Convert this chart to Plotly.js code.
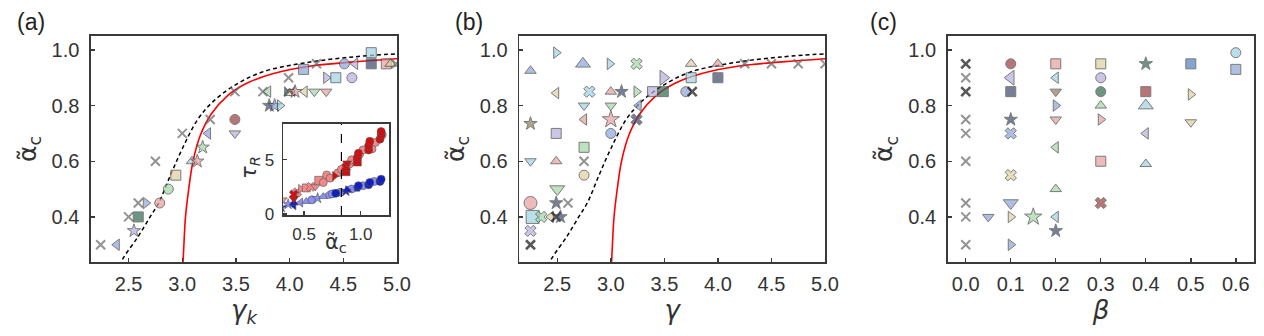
<!DOCTYPE html>
<html>
<head>
<meta charset="utf-8">
<script src="https://cdn.plot.ly/plotly-3.0.1.min.js"></script>
<style>
  html, body { margin: 0; padding: 0; background: #fff; }
  #chart { width: 1264px; height: 336px; }
</style>
</head>
<body>
<div id="chart"></div>
<script>
// theory curves (shared by panels a and b)
const redGamma  = [3.005, 3.015, 3.03, 3.06, 3.10, 3.17, 3.27, 3.42, 3.60, 3.85, 4.20, 4.60, 5.00];
const redAlpha  = [0.22, 0.30, 0.40, 0.50, 0.60, 0.695, 0.77, 0.835, 0.88, 0.915, 0.942, 0.957, 0.968];
const dashGamma = [2.40, 2.44, 2.59, 2.70, 2.78, 2.89, 3.00, 3.14, 3.27, 3.46, 3.74, 4.15, 4.60, 5.00];
const dashAlpha = [0.20, 0.245, 0.33, 0.40, 0.45, 0.55, 0.645, 0.748, 0.808, 0.866, 0.92, 0.954, 0.975, 0.986];

// panel (a): gamma_k vs alpha_c
const aGamma = [2.24, 2.39, 2.50, 2.59, 2.55, 2.59, 2.66, 2.79, 2.87, 2.75, 2.94, 3.00, 3.09, 3.14, 3.19, 3.24, 3.26,
  3.49, 3.49, 3.49, 3.75, 3.80, 3.81, 3.86, 3.91, 3.99, 4.00, 4.00, 4.05, 4.14, 4.23, 4.34, 4.13, 4.25, 4.34, 4.43,
  4.58, 4.51, 4.61, 4.76, 4.76, 4.90, 4.94, 4.99];
const aAlpha = [0.30, 0.30, 0.40, 0.40, 0.35, 0.45, 0.45, 0.45, 0.50, 0.60, 0.55, 0.70, 0.60, 0.60, 0.65, 0.70, 0.75,
  0.70, 0.75, 0.85, 0.85, 0.85, 0.80, 0.80, 0.80, 0.90, 0.845, 0.85, 0.85, 0.85, 0.85, 0.85, 0.93, 0.95, 0.90, 0.90,
  0.90, 0.95, 0.95, 0.95, 0.99, 0.95, 0.95, 0.95];
const aMark = ['x', 'triangle-left:sb', 'x', 'square:dg', 'star:lv', 'x', 'triangle-right:sb', 'circle:pk', 'circle:gr',
  'x', 'square:kh', 'x', 'triangle-up:lb', 'star:pk', 'star:gr', 'triangle-left:sb', 'x',
  'triangle-down:lv', 'circle:dr', 'x', 'x', 'triangle-left:gr', 'star:dn', 'star:sb', 'triangle-right:lb', 'x',
  'triangle-up:kh', 'bowtie:dn', 'star:pk', 'triangle-left:kh', 'triangle-down:gr', 'triangle-down:pk', 'square:sb',
  'x', 'triangle-right:lv', 'square:lb', 'circle:lv', 'circle:sb', 'triangle-left:lv', 'square:dn', 'square:lb',
  'square:pk', 'triangle-up:kh', 'x'];

// panel (a) inset: alpha_c vs tau_R
const redLightAlpha = [0.31, 0.44, 0.47, 0.52, 0.56, 0.60, 0.63, 0.67, 0.70, 0.73, 0.80, 0.83, 0.90, 0.92, 0.99, 1.02, 1.10, 1.13, 1.19];
const redLightTau   = [1.3, 2.0, 2.3, 2.4, 2.5, 2.5, 3.1, 2.9, 3.6, 3.3, 3.8, 4.1, 4.6, 5.0, 5.5, 5.9, 6.0, 6.6, 7.3];
const redDarkAlpha  = [0.41, 0.41, 0.77, 0.87, 0.87, 0.88, 0.97, 0.97, 0.98, 1.07, 1.07, 1.08, 1.17, 1.18, 1.18];
const redDarkTau    = [1.4, 1.8, 3.5, 3.9, 4.3, 4.7, 4.8, 5.2, 5.6, 5.9, 6.3, 6.7, 6.9, 7.3, 7.6];
const blueLightAlpha = [0.36, 0.47, 0.52, 0.57, 0.62, 0.67, 0.72, 0.75, 0.82, 0.92, 1.02, 1.12];
const blueLightTau   = [0.9, 1.05, 1.15, 1.3, 1.45, 1.6, 1.75, 1.85, 2.0, 2.3, 2.6, 3.0];
const blueDarkAlpha  = [0.30, 0.41, 0.41, 0.78, 0.87, 0.88, 0.97, 0.98, 1.07, 1.08, 1.17, 1.18];
const blueDarkTau    = [0.6, 0.8, 1.0, 1.9, 2.1, 2.2, 2.4, 2.6, 2.7, 2.9, 3.0, 3.2];
const alphaThreshold = 0.83;

// panel (b): gamma vs alpha_c
const bGamma = [2.25, 2.49, 2.74, 2.99, 3.24, 3.75, 4.00, 4.25, 4.50, 4.75, 5.00, 3.49, 3.75, 4.00,
  2.49, 2.80, 3.00, 3.10, 3.24, 3.39, 3.49, 3.70, 3.76, 2.75, 3.00, 3.26, 2.75, 3.00, 3.24,
  2.25, 2.49, 3.00, 2.75, 2.25, 2.49, 2.75, 2.75, 2.50, 2.25, 2.49, 2.60, 2.27, 2.35, 2.44, 2.49, 2.53, 2.25, 2.25];
const bAlpha = [0.925, 0.99, 0.95, 0.95, 0.95, 0.95, 0.95, 0.95, 0.95, 0.95, 0.95, 0.90, 0.90, 0.90,
  0.845, 0.85, 0.85, 0.85, 0.85, 0.85, 0.85, 0.85, 0.85, 0.80, 0.80, 0.80, 0.75, 0.75, 0.75,
  0.735, 0.70, 0.70, 0.65, 0.60, 0.60, 0.60, 0.55, 0.50, 0.45, 0.45, 0.45, 0.40, 0.40, 0.40, 0.40, 0.40, 0.35, 0.30];
const bMark = ['triangle-up:sb', 'triangle-right:lb', 'triangle-up:sb+', 'triangle-right:lb', 'xf:gr', 'triangle-up:kh',
  'triangle-up:pk', 'x', 'x', 'x', 'x', 'triangle-right:lv+', 'square:lb', 'square:dn',
  'triangle-left:kh', 'xf:lb', 'triangle-up:pk', 'star:dn', 'triangle-right:gr', 'square:lv', 'square:dg', 'circle:sb', 'xd',
  'triangle-down:lb', 'triangle-down:gr', 'triangle-left:sb', 'triangle-left:pk', 'star:pk+', 'xf:dn',
  'star:ol', 'square:lv', 'circle:sb', 'square:gr', 'triangle-down:lb', 'triangle-up:pk', 'x', 'circle:kh',
  'triangle-down:gr+', 'circle:pk+', 'star:dn', 'x', 'square:lb+', 'xf:gr', 'triangle-left:kh', 'xd', 'star:dn',
  'xf:lv', 'xd'];

// panel (c): beta vs alpha_c
const cBeta = [0, 0, 0, 0, 0, 0, 0, 0, 0, 0.05,
  0.1, 0.1, 0.1, 0.1, 0.1, 0.1, 0.1, 0.1, 0.1, 0.15,
  0.2, 0.2, 0.2, 0.2, 0.2, 0.2, 0.2, 0.2, 0.2,
  0.3, 0.3, 0.3, 0.3, 0.3, 0.3, 0.3,
  0.4, 0.4, 0.4, 0.4, 0.4,
  0.5, 0.5, 0.5, 0.6, 0.6];
const cAlpha = [0.95, 0.90, 0.85, 0.75, 0.70, 0.60, 0.45, 0.40, 0.30, 0.40,
  0.95, 0.90, 0.85, 0.75, 0.70, 0.55, 0.45, 0.40, 0.30, 0.40,
  0.95, 0.90, 0.85, 0.80, 0.75, 0.65, 0.50, 0.40, 0.35,
  0.95, 0.90, 0.85, 0.80, 0.75, 0.60, 0.45,
  0.95, 0.85, 0.80, 0.70, 0.59,
  0.95, 0.84, 0.74, 0.99, 0.93];
const cMark = ['xd', 'x', 'xd', 'x', 'x', 'x', 'x', 'x', 'x', 'triangle-down:sb',
  'circle:dr', 'triangle-left:lv+', 'square:dn', 'star:dn', 'xf:sb', 'xf:kh', 'triangle-down:sb+', 'triangle-right:kh',
  'triangle-right:sb', 'star:gr+',
  'square:pk', 'triangle-left:lb', 'triangle-down:ol', 'triangle-right:sb', 'triangle-down:pk', 'triangle-left:gr',
  'triangle-up:gr', 'triangle-left:lb', 'star:dn',
  'square:kh', 'circle:lv', 'circle:dg', 'triangle-up:gr', 'triangle-right:pk', 'square:pk', 'xf:dr',
  'star:dg', 'square:dr', 'triangle-up:lb+', 'triangle-left:lv', 'triangle-up:lb',
  'square:bl', 'triangle-right:kh', 'triangle-down:kh', 'circle:lb', 'square:sb'];

const palette = {
  lb: '#9fd2e2', pk: '#e89d9d', gr: '#a0d6a6', lv: '#b6aedb', kh: '#ddd09e', sb: '#8ea5d8',
  dg: '#2f6a50', dr: '#9b3b3b', dn: '#3d4a6b', ol: '#8c8058', bl: '#4f80bd'
};

function markersFor(codes) {
  const sym = [], col = [], size = [], lcol = [], lw = [];
  codes.forEach(c => {
    if (c === 'x' || c === 'xd') {
      sym.push('x-thin'); col.push('rgba(0,0,0,0)'); size.push(9);
      lcol.push(c === 'xd' ? '#111' : '#666'); lw.push(c === 'xd' ? 2.6 : 2);
      return;
    }
    const big = c.endsWith('+');
    const [s, k] = c.replace('+', '').split(':');
    sym.push(s === 'xf' ? 'x' : s);
    col.push(palette[k]);
    size.push(big ? 13 : 10);
    lcol.push('#444'); lw.push(1);
  });
  return {symbol: sym, color: col, size: size, line: {color: lcol, width: lw}};
}

function scatterPanel(x, y, codes, xa, ya) {
  return {x: x, y: y, xaxis: xa, yaxis: ya, type: 'scatter', mode: 'markers',
    marker: markersFor(codes), showlegend: false, hoverinfo: 'x+y'};
}

function curves(xa, ya) {
  return [
    {x: dashGamma, y: dashAlpha, xaxis: xa, yaxis: ya, mode: 'lines', type: 'scatter', showlegend: false,
      line: {color: '#000', width: 1.5, dash: '4px,3px', shape: 'spline'}},
    {x: redGamma, y: redAlpha, xaxis: xa, yaxis: ya, mode: 'lines', type: 'scatter', showlegend: false,
      line: {color: '#ff0000', width: 1.6, shape: 'spline'}}
  ];
}

function insetTrace(x, y, fill, syms) {
  return {x: x, y: y, xaxis: 'x4', yaxis: 'y4', type: 'scatter', mode: 'markers', showlegend: false,
    marker: {symbol: syms, size: 8, color: fill, line: {color: '#555', width: 0.6}}};
}

const redSyms = ['triangle-down', 'x', 'triangle-right', 'square', 'x', 'triangle-down', 'square'];
const blueSyms = ['star', 'triangle-left', 'triangle-up', 'circle', 'star', 'triangle-up', 'pentagon'];

const traces = [
  ...curves('x', 'y'),
  scatterPanel(aGamma, aAlpha, aMark, 'x', 'y'),
  ...curves('x2', 'y2'),
  scatterPanel(bGamma, bAlpha, bMark, 'x2', 'y2'),
  scatterPanel(cBeta, cAlpha, cMark, 'x3', 'y3'),
  insetTrace(blueLightAlpha, blueLightTau, '#8a8ff0', blueSyms),
  insetTrace(blueDarkAlpha, blueDarkTau, '#1020c0', blueSyms),
  insetTrace(redLightAlpha, redLightTau, '#f08a8a', redSyms),
  insetTrace(redDarkAlpha, redDarkTau, '#d01010', redSyms)
];

const lineCol = '#3a3a3a';
function axis(extra) {
  return Object.assign({
    showline: true, mirror: true, linecolor: lineCol, linewidth: 1.6,
    ticks: 'inside', ticklen: 4, tickwidth: 1.4, tickcolor: lineCol,
    showgrid: false, zeroline: false, ticklabelstandoff: 6,
    tickfont: {size: 20, color: '#333'}
  }, extra);
}

const yTitle = {text: 'α\u0303<sub>c</sub>', font: {size: 25, color: '#333', family: 'DejaVu Sans'}, standoff: 8};
const yDom = [0.2202, 0.8929];
const yMain = {range: [0.238, 1.05], dtick: 0.2, tick0: 0, tickformat: '.1f', domain: yDom, title: yTitle};
const xTitleFont = {size: 26, color: '#333', family: 'DejaVu Sans'};

const layout = {
  width: 1264, height: 336,
  margin: {l: 0, r: 0, t: 0, b: 0},
  paper_bgcolor: '#fff', plot_bgcolor: '#fff',
  font: {family: 'Liberation Sans, Arial, sans-serif', color: '#333'},
  xaxis: axis({domain: [0.0720, 0.3141], range: [2.15, 5.0], dtick: 0.5, tick0: 0, tickformat: '.1f', anchor: 'y',
    ticklabelstandoff: 3, title: {text: '<i>γ</i><sub><i>k</i></sub>', font: xTitleFont, standoff: 2}}),
  yaxis: axis(Object.assign({anchor: 'x'}, yMain)),
  xaxis2: axis({domain: [0.4108, 0.6527], range: [2.145, 5.0], dtick: 0.5, tick0: 0, tickformat: '.1f', anchor: 'y2',
    ticklabelstandoff: 3, title: {text: '<i>γ</i>', font: xTitleFont, standoff: 2}}),
  yaxis2: axis(Object.assign({anchor: 'x2'}, yMain)),
  xaxis3: axis({domain: [0.7498, 0.9923], range: [-0.04, 0.641], dtick: 0.1, tick0: 0, tickformat: '.1f', anchor: 'y3',
    ticklabelstandoff: 3, title: {text: '<i>β</i>', font: xTitleFont, standoff: 2}}),
  yaxis3: axis(Object.assign({anchor: 'x3'}, yMain)),
  xaxis4: axis({domain: [0.2241, 0.3078], range: [0.317, 1.25], tickvals: [0.5, 1.0], tickformat: '.1f', anchor: 'y4',
    tickfont: {size: 17, color: '#333'}, ticklabelstandoff: 3}),
  yaxis4: axis({domain: [0.3601, 0.6310], range: [-0.1, 8.3], tickvals: [0, 5], anchor: 'x4',
    tickfont: {size: 17, color: '#333'}, ticklabelstandoff: 4}),
  shapes: [{type: 'line', xref: 'x4', yref: 'y4 domain', x0: alphaThreshold, x1: alphaThreshold, y0: 0, y1: 1,
    line: {color: '#000', width: 1.2, dash: 'dash'}}],
  annotations: [
    {text: '(a)', x: 31 / 1264, y: 1 - 22 / 336, font: {size: 23, color: '#222'}},
    {text: '(b)', x: 469 / 1264, y: 1 - 22 / 336, font: {size: 23, color: '#222'}},
    {text: '(c)', x: 884 / 1264, y: 1 - 22 / 336, font: {size: 23, color: '#222'}},
    {text: 'α\u0303<sub>c</sub>', x: 336 / 1264, y: 1 - 243 / 336, font: {size: 21, color: '#333', family: 'DejaVu Sans'}},
    {text: '<i>τ</i><sub><i>R</i></sub>', x: 250 / 1264, y: 1 - 168 / 336, textangle: -90,
      font: {size: 21, color: '#333', family: 'DejaVu Sans'}}
  ].map(a => Object.assign({xref: 'paper', yref: 'paper', showarrow: false, xanchor: 'center', yanchor: 'middle'}, a))
};

Plotly.newPlot('chart', traces, layout, {staticPlot: true});
</script>
</body>
</html>
